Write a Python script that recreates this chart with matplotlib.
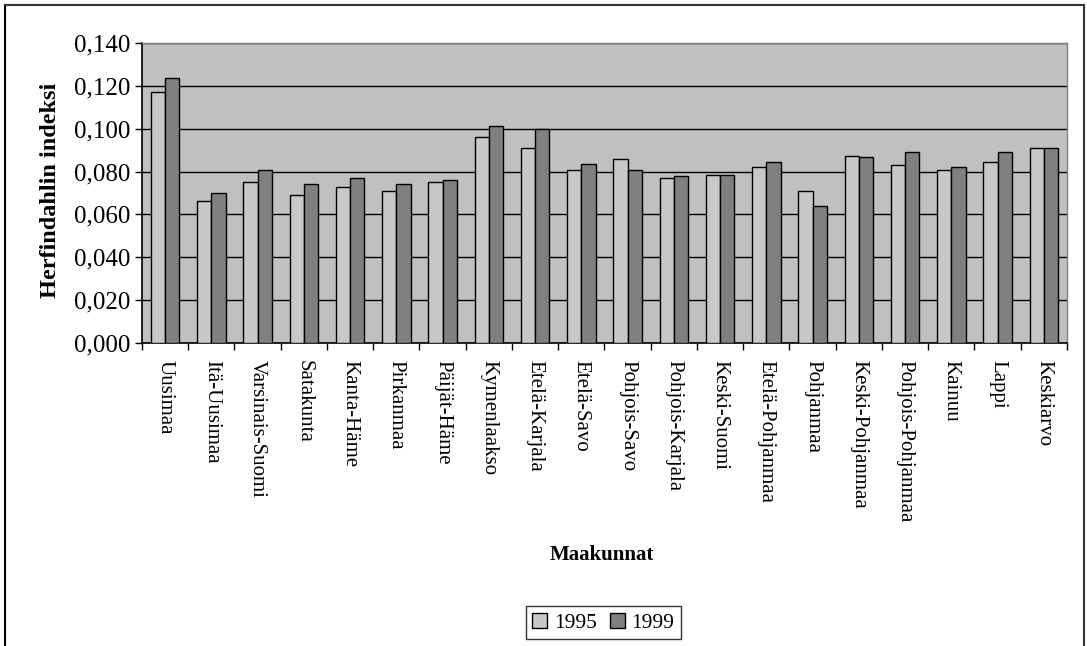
import numpy as np
import matplotlib.pyplot as plt
from matplotlib.lines import Line2D
from matplotlib.ticker import FuncFormatter

plt.rcParams['font.family'] = ['Liberation Serif', 'DejaVu Serif']

# maakunnat ja Herfindahlin indeksit
regions = ["Uusimaa", "Itä-Uusimaa", "Varsinais-Suomi", "Satakunta", "Kanta-Häme",
           "Pirkanmaa", "Päijät-Häme", "Kymenlaakso", "Etelä-Karjala", "Etelä-Savo",
           "Pohjois-Savo", "Pohjois-Karjala", "Keski-Suomi", "Etelä-Pohjanmaa",
           "Pohjanmaa", "Keski-Pohjanmaa", "Pohjois-Pohjanmaa", "Kainuu", "Lappi",
           "Keskiarvo"]
h1995 = [0.1173, 0.0664, 0.0751, 0.0691, 0.0728, 0.0711, 0.0751, 0.0961, 0.0908, 0.0806,
         0.0859, 0.0768, 0.0786, 0.0821, 0.0708, 0.0874, 0.0829, 0.0806, 0.0846, 0.0908]
h1999 = [0.1235, 0.0698, 0.0806, 0.0743, 0.0768, 0.0743, 0.0759, 0.1014, 0.0997, 0.0837,
         0.0806, 0.0779, 0.0786, 0.0846, 0.0639, 0.0866, 0.0890, 0.0821, 0.0890, 0.0908]
yticks = [0.0, 0.02, 0.04, 0.06, 0.08, 0.10, 0.12, 0.14]

fig = plt.figure(figsize=(10.87, 6.46), dpi=100)
ax = fig.add_axes([0.1306, 0.469, 0.8510, 0.4645])
ax.set_facecolor("#c0c0c0")

x = np.arange(len(regions))
w = 0.31
ax.bar(x - w / 2, h1995, w, color="#c8c8c8", edgecolor="black", linewidth=1, label="1995", zorder=3)
ax.bar(x + w / 2, h1999, w, color="#808080", edgecolor="black", linewidth=1, label="1999", zorder=3)

ax.set_ylim(0, 0.14)
ax.set_xlim(-0.5, len(regions) - 0.5)
ax.set_yticks(yticks)
ax.yaxis.set_major_formatter(FuncFormatter(lambda v, p: f"{v:.3f}".replace(".", ",")))
ax.grid(axis="y", color="black", linewidth=1, zorder=1)
ax.set_axisbelow(True)

ax.set_xticks(x)
ax.set_xticklabels(regions, rotation=270, fontsize=15)
ax.tick_params(axis="x", which="major", length=0, pad=12)
ax.set_xticks(np.arange(len(regions) + 1) - 0.5, minor=True)
ax.tick_params(axis="x", which="minor", length=5, width=1, direction="out")
ax.tick_params(axis="y", length=5, width=1, direction="out", labelsize=18, pad=3)

for s in ["left", "bottom"]:
    ax.spines[s].set_color("black")
    ax.spines[s].set_linewidth(1.2)
for s in ["top", "right"]:
    ax.spines[s].set_color("#808080")
    ax.spines[s].set_linewidth(1)

fig.text(0.046, 0.706, "Herfindahlin indeksi", rotation=90, ha="center", va="center",
         fontsize=17.5, fontweight="bold")
fig.text(0.554, 0.141, "Maakunnat", ha="center", va="center", fontsize=15, fontweight="bold")

leg = fig.legend(loc="center", bbox_to_anchor=(0.555, 0.036), ncol=2, fontsize=15.5,
                 frameon=True, fancybox=False, edgecolor="black", handlelength=0.7,
                 handleheight=0.7, handletextpad=0.3, columnspacing=0.6, borderpad=0.3)
leg.get_frame().set_linewidth(1)

# kehys kuvan ympärillä
fig.add_artist(Line2D([5 / 1087, 5 / 1087], [0, 1 - 5 / 646], color="black", linewidth=1.5))
fig.add_artist(Line2D([1084 / 1087, 1084 / 1087], [0, 1 - 5 / 646], color="#333333", linewidth=1.5))
fig.add_artist(Line2D([5 / 1087, 1084 / 1087], [1 - 5 / 646, 1 - 5 / 646], color="#333333", linewidth=1.5))

fig.savefig("out.png", dpi=100)
